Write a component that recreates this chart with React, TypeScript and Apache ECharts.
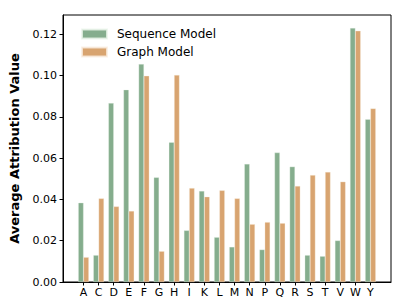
import React, { useEffect, useRef } from "react";
import * as echarts from "echarts";

const categories = ["A","C","D","E","F","G","H","I","K","L","M","N","P","Q","R","S","T","V","W","Y"];
const sequenceModel = [0.0384,0.0130,0.0867,0.0932,0.1056,0.0507,0.0677,0.0250,0.0441,0.0217,0.0170,0.0572,0.0157,0.0627,0.0559,0.0130,0.0125,0.0201,0.1231,0.0789];
const graphModel = [0.0120,0.0405,0.0366,0.0344,0.0999,0.0149,0.1003,0.0455,0.0413,0.0444,0.0405,0.0280,0.0290,0.0285,0.0465,0.0518,0.0533,0.0486,0.1217,0.0841];
const yTicks = [0, 0.02, 0.04, 0.06, 0.08, 0.1, 0.12];

const FONT = "DejaVu Sans";

export default function App() {
  const ref = useRef<HTMLDivElement>(null);
  useEffect(() => {
    document.body.style.margin = "0";
    const chart = echarts.init(ref.current!, null, { renderer: "svg" });
    const idx = categories.map((_, i) => i);
    chart.setOption({
      animation: false,
      textStyle: { fontFamily: FONT },
      grid: {
        left: 63, top: 15, width: 328, height: 267,
        show: true, borderColor: "#000", borderWidth: 1, backgroundColor: "transparent",
      },
      legend: {
        orient: "vertical",
        left: 76, top: 23,
        itemWidth: 25, itemHeight: 9, itemGap: 6,
        icon: "rect",
        textStyle: { fontFamily: FONT, fontSize: 12, color: "#000", padding: [0, 0, 0, 5] },
        data: ["Sequence Model", "Graph Model"],
      },
      xAxis: {
        type: "value",
        min: -1.36, max: 19 + 1.36,
        splitLine: { show: false },
        axisLine: { show: true, onZero: false, lineStyle: { color: "#000", width: 1 } },
        axisTick: { show: true, length: 3.5, lineStyle: { color: "#000" }, customValues: idx },
        axisLabel: {
          customValues: idx,
          formatter: (v: number) => categories[Math.round(v)] ?? "",
          fontFamily: FONT, fontSize: 11, color: "#000", margin: 5,
        },
      },
      yAxis: {
        type: "value",
        min: 0, max: 0.1294,
        splitLine: { show: false },
        axisLine: { show: true, onZero: false, lineStyle: { color: "#000", width: 1 } },
        axisTick: { show: true, length: 3.5, lineStyle: { color: "#000" }, customValues: yTicks },
        axisLabel: {
          customValues: yTicks,
          formatter: (v: number) => v.toFixed(2),
          fontFamily: FONT, fontSize: 11, color: "#000", margin: 6,
        },
        name: "Average Attribution Value",
        nameLocation: "middle",
        nameGap: 42,
        nameRotate: 90,
        nameTextStyle: { fontFamily: FONT, fontSize: 13, fontWeight: "bold", color: "#000" },
      },
      series: [
        {
          name: "Sequence Model",
          type: "bar",
          barWidth: 5.3,
          barGap: "0%",
          itemStyle: { color: "#85ad8d", borderColor: "rgba(235,245,235,0.8)", borderWidth: 0.4 },
          data: sequenceModel.map((v, i) => [i, v]),
        },
        {
          name: "Graph Model",
          type: "bar",
          barWidth: 5.3,
          barGap: "0%",
          itemStyle: { color: "#d8a470", borderColor: "rgba(250,238,225,0.8)", borderWidth: 0.4 },
          data: graphModel.map((v, i) => [i, v]),
        },
      ],
    });
    return () => chart.dispose();
  }, []);
  return <div ref={ref} style={{ width: 407, height: 306 }} />;
}
